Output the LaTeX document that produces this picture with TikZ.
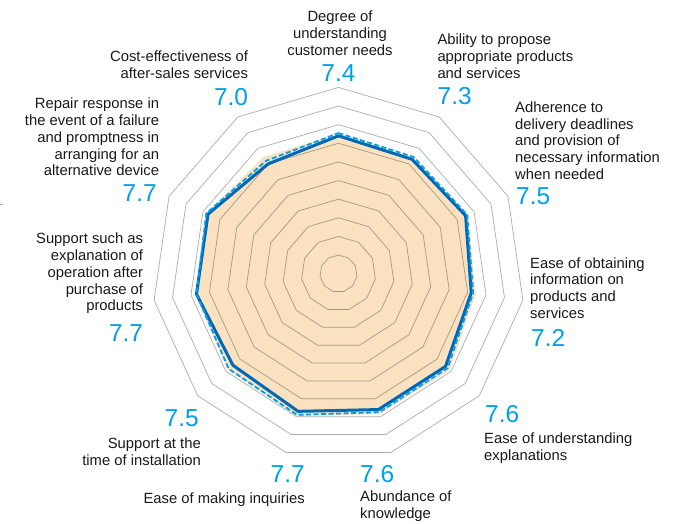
\documentclass[tikz,border=0pt]{standalone}
\usepackage{fontspec}
\setmainfont{Liberation Sans}
\usetikzlibrary{positioning}
\definecolor{scoreblue}{RGB}{0,160,233}
\definecolor{lineblue}{RGB}{0,104,183}
\definecolor{peach}{RGB}{250,226,193}
\def\rstep{18.63}

\begin{document}
\begin{tikzpicture}[x=1pt,y=-1pt,
  every node/.style={inner sep=0pt, text=black!90},
  item/.style={font=\fontsize{14.8}{16.7}\selectfont},
  score/.style={font=\fontsize{24.5}{24.5}\selectfont, text=scoreblue},
  ring/.style={draw=black, draw opacity=0.33, line width=0.7pt},
  area/.style={fill=peach},
  thisyear/.style={draw=lineblue, line width=3pt, line join=round},
  lastyear/.style={draw=scoreblue, line width=1.8pt, dash pattern=on 5pt off 2.5pt}]

  \useasboundingbox (0,0) rectangle (674,523);

  \begin{scope}[shift={(338.5,273.7)}]
    \path[area] (-90:7.5*\rstep) \foreach \v [count=\k] in {7.4,7.6,7.45,7.9,7.85,7.95,7.85,7.8,7.8,7.45}{ -- (-90+\k*360/11:\v*\rstep)} -- cycle;
    \foreach \r in {1,...,10}
      \draw[ring] (-90:\r*\rstep) \foreach \k in {1,...,10}{ -- (-90+\k*360/11:\r*\rstep)} -- cycle;
    \draw[thisyear] (-90:7.4*\rstep) \foreach \v [count=\k] in {7.3,7.5,7.2,7.6,7.6,7.7,7.5,7.7,7.7,7.0}{ -- (-90+\k*360/11:\v*\rstep)} -- cycle;
    \draw[lastyear] (-90:7.55*\rstep) \foreach \v [count=\k] in {7.45,7.6,7.3,7.75,7.75,7.9,7.8,7.7,7.8,7.2}{ -- (-90+\k*360/11:\v*\rstep)} -- cycle;
  \end{scope}

  \draw[ring] (0,204) -- (3,204);

  \node[item, align=center, anchor=base] (needs) at (340,55) {Degree of\\understanding\\customer needs};
  \node[score, anchor=base] (s-needs) at (338.5,81) {7.4};

  \node[item, align=left, anchor=base west] (propose) at (437.3,78.3) {Ability to propose\\appropriate products\\and services};
  \node[score, anchor=base west] (s-propose) at (437.5,104.3) {7.3};

  \node[item, align=left, anchor=base west] (delivery) at (515,179.3) {Adherence to\\delivery deadlines\\and provision of\\necessary information\\when needed};
  \node[score, anchor=base west] (s-delivery) at (516,204.3) {7.5};

  \node[item, align=left, anchor=base west] (obtain) at (530,318.3) {Ease of obtaining\\information on\\products and\\services};
  \node[score, anchor=base west] (s-obtain) at (531,346.7) {7.2};

  \node[score, anchor=base west] (s-explain) at (485,422.7) {7.6};
  \node[item, align=left, anchor=base west] (explain) at (484,460) {Ease of understanding\\explanations};

  \node[score, anchor=base west] (s-knowledge) at (360,482.3) {7.6};
  \node[item, align=left, anchor=base west] (knowledge) at (360,518.3) {Abundance of\\knowledge};

  \node[score, anchor=base east] (s-inquiry) at (305,482.3) {7.7};
  \node[item, anchor=base east] (inquiry) at (305,503.3) {Ease of making inquiries};

  \node[score, anchor=base east] (s-install) at (199,426.7) {7.5};
  \node[item, align=right, anchor=base east] (install) at (201,465) {Support at the\\time of installation};

  \node[item, align=right, anchor=base east] (operation) at (143.3,310.7) {Support such as\\explanation of\\operation after\\purchase of\\products};
  \node[score, anchor=base east] (s-operation) at (143.3,341.7) {7.7};

  \node[item, align=right, anchor=base east] (repair) at (159.3,175.7) {Repair response in\\the event of a failure\\and promptness in\\arranging for an\\alternative device};
  \node[score, anchor=base east] (s-repair) at (157,201.7) {7.7};

  \node[item, align=right, anchor=base east] (cost) at (248.3,78.3) {Cost-effectiveness of\\after-sales services};
  \node[score, anchor=base east] (s-cost) at (248.3,105) {7.0};
\end{tikzpicture}
\end{document}
